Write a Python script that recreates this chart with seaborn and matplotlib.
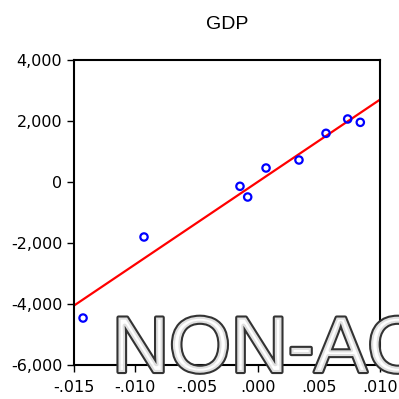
import numpy as np
import pandas as pd
import matplotlib
matplotlib.use("Agg")
import matplotlib.pyplot as plt
import matplotlib.patheffects as pe
from matplotlib.ticker import FixedLocator, FuncFormatter
import seaborn as sns

# data
x_values = [-0.01426, -0.00928, -0.00144, -0.00081, 0.00069, 0.00338, 0.00559, 0.00736, 0.00839]
gdp_values = [-4460, -1803, -141, -492, 459, 721, 1596, 2066, 1956]
x_ticks = [-0.015, -0.010, -0.005, 0.000, 0.005, 0.010]
y_ticks = [-6000, -4000, -2000, 0, 2000, 4000]
title = "GDP"
watermark = "NON-AC"

df = pd.DataFrame({"x": x_values, "GDP": gdp_values})

sns.set_style("ticks")
plt.rcParams["font.family"] = ["Liberation Sans", "DejaVu Sans"]

fig = plt.figure(figsize=(3.99, 3.99), dpi=100)
ax = fig.add_axes([74 / 399, 34 / 399, 306 / 399, 305 / 399])
ax.set_xlim(-0.015, 0.010)
ax.set_ylim(-6000, 4000)

sns.regplot(data=df, x="x", y="GDP", ax=ax, ci=None, truncate=False,
            scatter=False, line_kws=dict(color="#ff0000", lw=1.6))
sns.scatterplot(data=df, x="x", y="GDP", ax=ax, marker="o", s=28,
                facecolor="none", edgecolor="#0000ff", linewidth=1.6, zorder=3)

ax.set_xlim(-0.015, 0.010)
ax.set_ylim(-6000, 4000)
ax.xaxis.set_major_locator(FixedLocator(x_ticks))
ax.yaxis.set_major_locator(FixedLocator(y_ticks))

def xfmt(v, pos):
    s = f"{v:.3f}"
    return s.replace("0.", ".", 1)

ax.xaxis.set_major_formatter(FuncFormatter(xfmt))
ax.yaxis.set_major_formatter(FuncFormatter(lambda v, p: f"{int(round(v)):,}"))
ax.tick_params(direction="out", length=5, width=1, color="black",
               labelcolor="black")
ax.tick_params(axis="y", pad=3.5)
ax.tick_params(axis="x", pad=5.5)
for lab in ax.get_xticklabels() + ax.get_yticklabels():
    lab.set_fontfamily("DejaVu Sans")
    lab.set_fontsize(11.5)
for s in ax.spines.values():
    s.set_visible(True)
    s.set_color("black")
    s.set_linewidth(1.5)
ax.set_xlabel("")
ax.set_ylabel("")
ax.set_title(title, fontsize=14, pad=22, color="black")

fig.text(112 / 399, 1 - 372 / 399, watermark, fontsize=57, color=(1, 1, 1, 0.85),
         ha="left", va="baseline", zorder=10,
         path_effects=[pe.Stroke(linewidth=3.0, foreground="#333333"), pe.Normal()])

fig.savefig("out.png", dpi=100)
